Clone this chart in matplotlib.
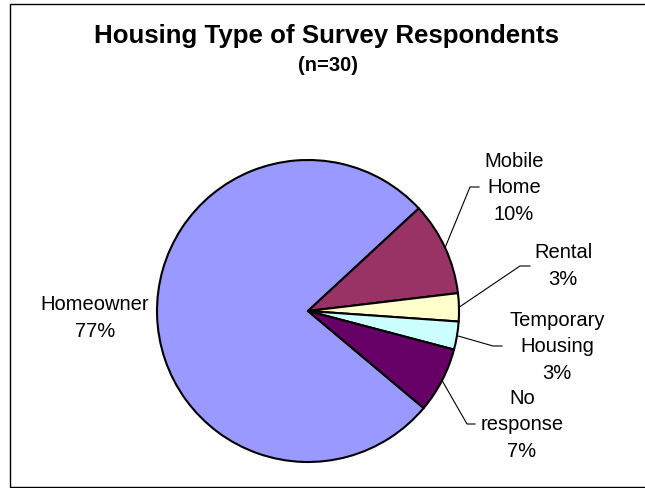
import numpy as np
import matplotlib
matplotlib.use("Agg")
import matplotlib.pyplot as plt
from matplotlib.patches import Rectangle

plt.rcParams["font.family"] = ["Liberation Sans", "DejaVu Sans"]

# housing type breakdown, n=30
categories = ["Homeowner", "Mobile\nHome", "Rental", "Temporary\nHousing", "No\nresponse"]
shares = [77, 10, 3, 3, 7]
colors = ["#9999FF", "#993366", "#FFFFCC", "#CCFFFF", "#660066"]

W, H = 645, 489
fig = plt.figure(figsize=(W / 100, H / 100), dpi=100)
ax = fig.add_axes([0, 0, 1, 1])

cx, cy, R = 308, H - 312, 151
wedges, _ = ax.pie(shares, colors=colors, startangle=-40, counterclock=False,
                   center=(cx, cy), radius=R, frame=True,
                   wedgeprops=dict(edgecolor="black", linewidth=1.5))
ax.set_xlim(0, W)
ax.set_ylim(0, H)
ax.axis("off")

# outer chart border (runs off the right edge)
ax.add_patch(Rectangle((10, H - 488), W, 483, fill=False, edgecolor="black",
                       linewidth=1.0, clip_on=False))

ax.text(326, H - 36, "Housing Type of Survey Respondents", ha="center", va="center",
        fontsize=18.6, fontweight="bold")
ax.text(328, H - 66, "(n=30)", ha="center", va="center", fontsize=14.5,
        fontweight="bold")

# label block centres and leader elbows (None = no leader)
label_pos = [(95, 318), (514, 188), (563, 266), (557, 347), (522, 425)]
elbows = [None, ((470, 188), (479, 188)), ((520, 267), (530, 267)),
          ((493, 347), (502, 347)), ((467, 425), (475, 425))]

for w, name, val, (lx, ly), elb in zip(wedges, categories, shares, label_pos, elbows):
    ax.text(lx, H - ly, f"{name}\n{val}%", ha="center", va="center",
            fontsize=14.5, linespacing=1.48)
    if elb is None:
        continue
    mid = np.deg2rad((w.theta1 + w.theta2) / 2)
    x0, y0 = cx + R * np.cos(mid), cy + R * np.sin(mid)
    (x1, y1), (x2, y2) = elb
    ax.plot([x0, x1, x2], [y0, H - y1, H - y2], color="black", linewidth=0.8)

fig.savefig("out.png", dpi=100)
